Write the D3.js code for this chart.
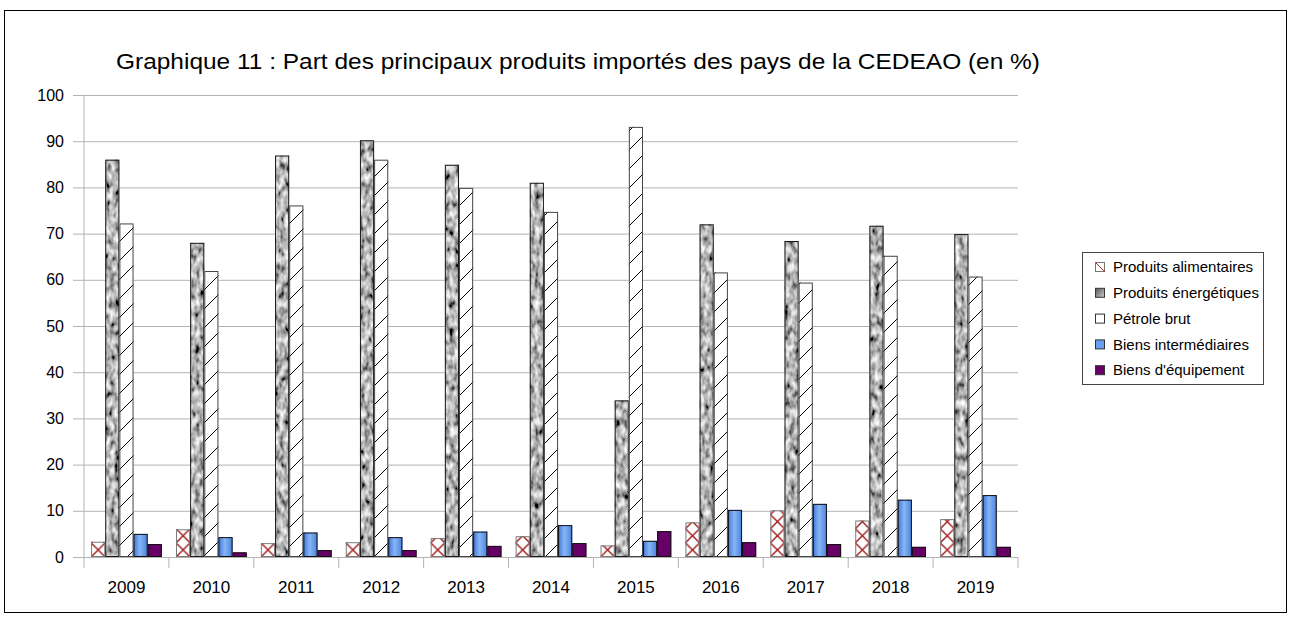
<!DOCTYPE html>
<html>
<head>
<meta charset="utf-8">
<script src="https://cdn.jsdelivr.net/npm/d3@7"></script>
<style>
    body { margin: 0; background: #fff; }
    text { font-family: "Liberation Sans", Arial, sans-serif; fill: #000; }
</style>
</head>
<body>
<svg id="chart" width="1291" height="623"></svg>
<script>
const years = ["2009", "2010", "2011", "2012", "2013", "2014", "2015", "2016", "2017", "2018", "2019"];
const seriesNames = ["Produits alimentaires", "Produits énergétiques", "Pétrole brut", "Biens intermédiaires", "Biens d'équipement"];
const alimentaires = [3.3, 6.0, 3.0, 3.2, 4.1, 4.5, 2.5, 7.5, 10.1, 7.9, 8.2];
const energetiques = [86.0, 68.0, 86.9, 90.2, 84.9, 81.0, 33.9, 72.0, 68.4, 71.7, 69.9];
const petrole = [72.2, 61.9, 76.1, 86.0, 79.9, 74.7, 93.1, 61.6, 59.4, 65.2, 60.7];
const intermediaires = [5.0, 4.3, 5.3, 4.3, 5.5, 6.9, 3.5, 10.2, 11.5, 12.4, 13.4];
const equipement = [2.8, 1.0, 1.5, 1.5, 2.4, 3.0, 5.6, 3.2, 2.8, 2.2, 2.2];
const yTicks = [0, 10, 20, 30, 40, 50, 60, 70, 80, 90, 100];

(function () {
    const svg = d3.select("svg#chart");
    const plot = { left: 84, right: 1018, top: 95, bottom: 557 };

    const seriesValues = [alimentaires, energetiques, petrole, intermediaires, equipement];
    const fills = ["url(#crossHatch)", "#999", "url(#diagHatch)", "url(#blueGrad)", "#660066"];
    const strokes = ["#7a7a7a", "#1a1a1a", "#444", "#111", "#111"];

    // outer frame
    svg.append("rect")
        .attr("x", 4.5).attr("y", 10.5)
        .attr("width", 1282).attr("height", 602)
        .attr("fill", "none").attr("stroke", "#000");

    let x = d3.scaleBand().domain(years).range([plot.left, plot.right]).paddingInner(0).paddingOuter(0);
    let sub = d3.scaleBand().domain(seriesNames).range([0, x.bandwidth()]).paddingInner(0).paddingOuter(0.5);
    let y = d3.scaleLinear().domain([0, 100]).range([plot.bottom, plot.top]);

    const defs = svg.append("defs");

    // red cross pattern, one tile per bar width
    const bw = sub.bandwidth();
    const cross = defs.append("pattern")
        .attr("id", "crossHatch")
        .attr("patternUnits", "userSpaceOnUse")
        .attr("x", x(years[0]) + sub(seriesNames[0]))
        .attr("y", y(0))
        .attr("width", sub.step())
        .attr("height", bw);
    cross.append("rect").attr("width", sub.step()).attr("height", bw).attr("fill", "#fff");
    cross.append("path")
        .attr("d", `M0,0L${bw},${bw}M${bw},0L0,${bw}`)
        .attr("stroke", "#a01818").attr("stroke-width", 1.4);

    const diag = defs.append("pattern")
        .attr("id", "diagHatch")
        .attr("patternUnits", "userSpaceOnUse")
        .attr("width", 19).attr("height", 19);
    diag.append("rect").attr("width", 19).attr("height", 19).attr("fill", "#fff");
    diag.append("path")
        .attr("d", "M0,19L19,0M-2,2L2,-2M17,21L21,17")
        .attr("stroke", "#000").attr("stroke-width", 1);

    const grad = defs.append("linearGradient").attr("id", "blueGrad")
        .attr("x1", 0).attr("x2", 1).attr("y1", 0).attr("y2", 0);
    grad.append("stop").attr("offset", "0%").attr("stop-color", "#3f74d6");
    grad.append("stop").attr("offset", "45%").attr("stop-color", "#86b6f6");
    grad.append("stop").attr("offset", "100%").attr("stop-color", "#4a80dc");

    const legGrad = defs.append("linearGradient").attr("id", "grayGrad")
        .attr("x1", 0).attr("x2", 1).attr("y1", 0).attr("y2", 1);
    legGrad.append("stop").attr("offset", "0%").attr("stop-color", "#555");
    legGrad.append("stop").attr("offset", "100%").attr("stop-color", "#ccc");

    // granite-like texture for energy bars
    const filt = defs.append("filter")
        .attr("id", "granite")
        .attr("filterUnits", "userSpaceOnUse")
        .attr("x", 0).attr("y", 0).attr("width", 1291).attr("height", 623);
    filt.append("feTurbulence")
        .attr("type", "fractalNoise")
        .attr("baseFrequency", "0.2 0.11")
        .attr("numOctaves", 2)
        .attr("seed", 5)
        .attr("result", "noise");
    filt.append("feColorMatrix")
        .attr("in", "noise")
        .attr("type", "matrix")
        .attr("values", "1.6 0 0 0 -0.33  1.6 0 0 0 -0.33  1.6 0 0 0 -0.33  0 0 0 0 1")
        .attr("result", "gray");
    filt.append("feComposite")
        .attr("in", "gray").attr("in2", "SourceGraphic").attr("operator", "in");

    // gridlines
    let gridAxis = d3.axisLeft(y).tickValues(yTicks).tickSize(plot.right - 73).tickFormat("");
    svg.append("g")
        .attr("class", "y gridlines")
        .attr("transform", `translate(${plot.right},0)`)
        .call(gridAxis)
        .call(g => g.select(".domain").remove())
        .call(g => g.selectAll("line").attr("stroke", "#b3b3b3"));

    let leftAxis = d3.axisLeft(y).tickValues(yTicks).tickSize(0).tickPadding(9);
    svg.append("g")
        .attr("class", "y axis")
        .attr("transform", "translate(73,0)")
        .call(leftAxis)
        .call(g => g.select(".domain").remove())
        .call(g => g.selectAll("text").attr("font-size", 16).attr("font-family", "Liberation Sans, Arial, sans-serif").attr("fill", "#000"));

    svg.append("line")
        .attr("x1", plot.left).attr("x2", plot.left)
        .attr("y1", plot.top).attr("y2", plot.bottom)
        .attr("stroke", "#b3b3b3");

    // category separators under the axis
    svg.selectAll("line.sep")
        .data(d3.range(years.length + 1))
        .join("line").attr("class", "sep")
        .attr("x1", i => plot.left + i * x.step())
        .attr("x2", i => plot.left + i * x.step())
        .attr("y1", plot.bottom).attr("y2", plot.bottom + 11)
        .attr("stroke", "#b3b3b3");

    let bottomAxis = d3.axisBottom(x).tickSize(0).tickPadding(24);
    svg.append("g")
        .attr("class", "x axis")
        .attr("transform", `translate(0,${plot.bottom})`)
        .call(bottomAxis)
        .call(g => g.select(".domain").remove())
        .call(g => g.selectAll("text").attr("font-size", 17).attr("font-family", "Liberation Sans, Arial, sans-serif").attr("fill", "#000"));

    // bars
    const chartArea = svg.append("g").attr("id", "bars");
    seriesNames.forEach((name, s) => {
        const rows = years.map((yr, i) => ({ year: yr, value: seriesValues[s][i] }));
        const g = chartArea.append("g").attr("class", "series-" + s);
        g.selectAll("rect.bar").data(rows)
            .join("rect").attr("class", "bar")
            .attr("x", d => x(d.year) + sub(name))
            .attr("y", d => y(d.value))
            .attr("width", sub.bandwidth())
            .attr("height", d => y(0) - y(d.value))
            .attr("fill", fills[s])
            .attr("filter", s === 1 ? "url(#granite)" : null);
        g.selectAll("rect.edge").data(rows)
            .join("rect").attr("class", "edge")
            .attr("x", d => x(d.year) + sub(name) + 0.5)
            .attr("y", d => y(d.value) + 0.5)
            .attr("width", sub.bandwidth() - 1)
            .attr("height", d => Math.max(0, y(0) - y(d.value) - 1))
            .attr("fill", "none")
            .attr("stroke", strokes[s]);
    });

    // title
    svg.append("text")
        .attr("x", 578).attr("y", 69)
        .attr("text-anchor", "middle")
        .attr("font-size", 22)
        .attr("textLength", 924)
        .attr("lengthAdjust", "spacingAndGlyphs")
        .text("Graphique 11 : Part des principaux produits importés des pays de la CEDEAO (en %)");

    // legend
    const legend = svg.append("g").attr("id", "legend");
    legend.append("rect")
        .attr("x", 1082.5).attr("y", 252.5)
        .attr("width", 181).attr("height", 132)
        .attr("fill", "#fff").attr("stroke", "#444");
    const swatchFills = ["#fff", "url(#grayGrad)", "#fff", "#6a9ef0", "#660066"];
    const items = legend.selectAll("g.item").data(seriesNames)
        .join("g").attr("class", "item")
        .attr("transform", (d, i) => `translate(1095,${267 + i * 25.8})`);
    items.append("rect")
        .attr("x", 0.5).attr("y", -4.5)
        .attr("width", 9).attr("height", 9)
        .attr("fill", (d, i) => swatchFills[i])
        .attr("stroke", (d, i) => i === 0 ? "#777" : "#333");
    items.filter((d, i) => i === 0).append("path")
        .attr("d", "M1,-4L10,5")
        .attr("stroke", "#b02a2a");
    items.append("text")
        .attr("x", 18).attr("y", 0)
        .attr("dy", "0.35em")
        .attr("font-size", 15)
        .text(d => d);
})();
</script>
</body>
</html>
